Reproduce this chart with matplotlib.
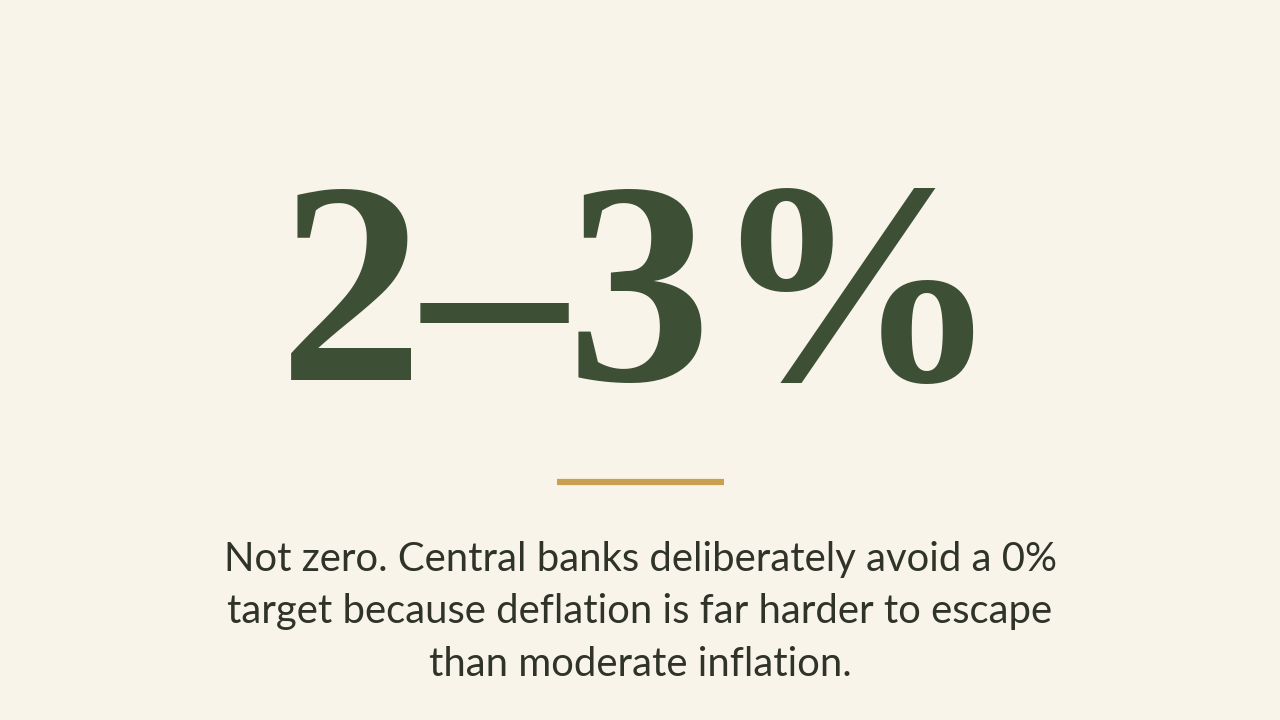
import matplotlib.pyplot as plt
from matplotlib.lines import Line2D

# content
HEADLINE = "2\u20133%"
BODY_LINES = [
    "Not zero. Central banks deliberately avoid a 0%",
    "target because deflation is far harder to escape",
    "than moderate inflation.",
]

BG = "#F8F4EA"
GREEN = "#3D4F35"
GOLD = "#C9A04F"
INK = "#2F3328"

fig = plt.figure(figsize=(12.8, 7.2), dpi=100)
fig.patch.set_facecolor(BG)

fig.text(0.5, 1 - 311 / 720, HEADLINE, ha="center", va="center", color=GREEN,
         fontsize=208, fontweight="bold", family=["Liberation Serif", "DejaVu Serif"])

fig.add_artist(Line2D([557 / 1280, 724 / 1280], [1 - 482 / 720] * 2,
                      color=GOLD, linewidth=4.5, solid_capstyle="butt"))

fig.text(0.5, 1 - 612 / 720, "\n".join(BODY_LINES), ha="center", va="center",
         color=INK, fontsize=28.8, family=["Lato", "DejaVu Sans"], linespacing=1.5)

fig.savefig("out.png", dpi=100, facecolor=BG)
